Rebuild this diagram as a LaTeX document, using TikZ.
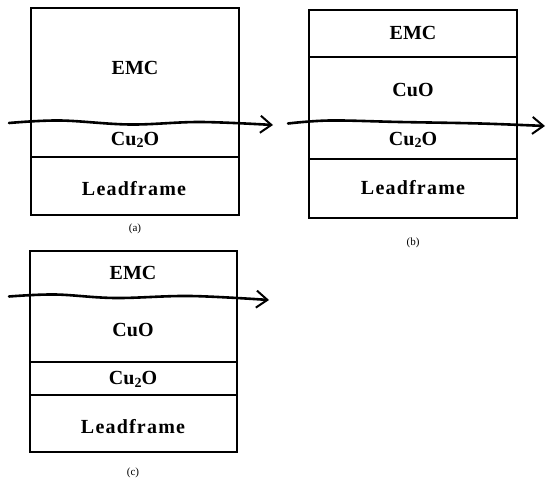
\documentclass[tikz,border=0pt]{standalone}
\usepackage{fontspec}
\setmainfont{Liberation Serif}
\usetikzlibrary{arrows.meta}
\newcommand\cutwoo{Cu\raisebox{-0.3ex}{\fontsize{14}{14}\selectfont 2}O}
\begin{document}
\begin{tikzpicture}[x=1pt,y=-1pt,
  layerbox/.style={line width=1.4pt},
  lbl/.style={font=\bfseries\fontsize{20}{22}\selectfont, inner sep=0pt},
  wide/.style={font=\bfseries\fontsize{20}{22}\selectfont\addfontfeature{LetterSpace=6}, inner sep=0pt},
  captext/.style={font=\fontsize{11}{12}\selectfont, inner sep=0pt},
  flow/.style={line width=2.6pt, line cap=round, -{Straight Barb[length=11pt,width=17pt,line width=2pt]}}
]
\useasboundingbox (0,0) rectangle (546,481);
% ---------- (a)
\draw[layerbox] (31,8) rectangle (239,215);
\draw[layerbox] (31,157) -- (239,157);
\node[lbl] (aemc) at (135,68) {EMC};
\node[lbl] (acu2o) at (135,140) {\cutwoo};
\node[wide] (alf) at (134,189) {Leadframe};
\node[captext] (acap) at (135,229) {(a)};
\coordinate (aS) at (9,123);
\coordinate (a1) at (60,120.5);
\coordinate (a2) at (130,124.5);
\coordinate (a3) at (200,122);
\coordinate (aE) at (273,125);
\draw[flow] plot[smooth, tension=0.6] coordinates {(aS) (a1) (a2) (a3) (aE)};
% ---------- (b)
\draw[layerbox] (309,10) rectangle (517,218);
\draw[layerbox] (309,57) -- (517,57);
\draw[layerbox] (309,159) -- (517,159);
\node[lbl] (bemc) at (413,33) {EMC};
\node[lbl] (bcuo) at (413,90) {CuO};
\node[lbl] (bcu2o) at (413,140) {\cutwoo};
\node[wide] (blf) at (413,188) {Leadframe};
\node[captext] (bcap) at (413,243) {(b)};
\coordinate (bS) at (288,123.5);
\coordinate (b1) at (330,120.5);
\coordinate (b2) at (400,122);
\coordinate (b3) at (480,123.5);
\coordinate (bE) at (545,126);
\draw[flow] plot[smooth, tension=0.6] coordinates {(bS) (b1) (b2) (b3) (bE)};
% ---------- (c)
\draw[layerbox] (30,251) rectangle (237,452);
\draw[layerbox] (30,362) -- (237,362);
\draw[layerbox] (30,395) -- (237,395);
\node[lbl] (cemc) at (133,273) {EMC};
\node[lbl] (ccuo) at (133,330) {CuO};
\node[lbl] (ccu2o) at (133,379) {\cutwoo};
\node[wide] (clf) at (133,427) {Leadframe};
\node[captext] (ccap) at (133,473) {(c)};
\coordinate (cS) at (9,296.5);
\coordinate (c1) at (55,294.5);
\coordinate (c2) at (115,298);
\coordinate (c3) at (190,296);
\coordinate (cE) at (269,300);
\draw[flow] plot[smooth, tension=0.6] coordinates {(cS) (c1) (c2) (c3) (cE)};
\end{tikzpicture}
\end{document}
